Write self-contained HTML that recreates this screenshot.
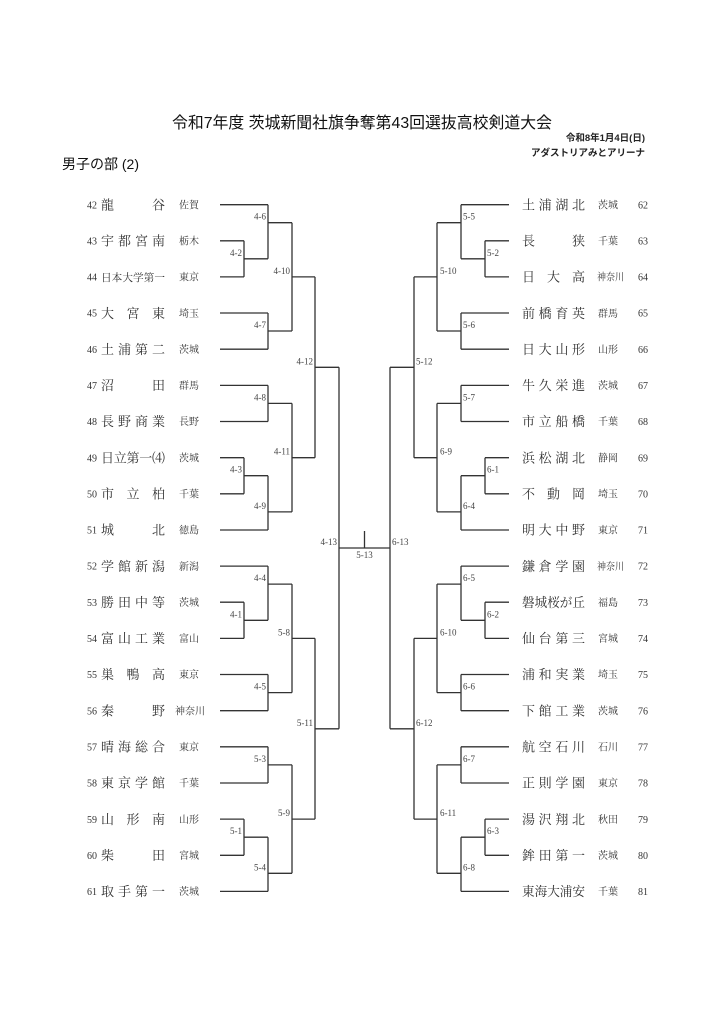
<!DOCTYPE html>
<html><head><meta charset="utf-8"><style>
html,body{margin:0;padding:0;background:#fff}
svg{display:block}
.g{font-family:"Liberation Sans","Noto Sans CJK JP",sans-serif}
.m{font-family:"Liberation Serif","Noto Serif CJK SC",serif;fill:#333}
.l{font-family:"Liberation Serif","Noto Serif CJK SC",serif;font-size:9px;fill:#444}
</style></head><body>
<svg width="724" height="1024" viewBox="0 0 724 1024" xmlns="http://www.w3.org/2000/svg">
<text class="g" x="362" y="128" font-size="16" text-anchor="middle" fill="#111" textLength="380" lengthAdjust="spacingAndGlyphs">令和7年度 茨城新聞社旗争奪第43回選抜高校剣道大会</text>
<text class="g" x="645" y="141" font-size="9.5" text-anchor="end" font-weight="bold" fill="#222">令和8年1月4日(日)</text>
<text class="g" x="645" y="156" font-size="9.5" text-anchor="end" font-weight="bold" fill="#222">アダストリアみとアリーナ</text>
<text class="g" x="62" y="169" font-size="14" fill="#111">男子の部 (2)</text>

<g id="br" fill="none" stroke="#333" stroke-width="1.3">
<path d="M220 204.7H268M220 240.8H244M220 276.9H244M220 313H268M220 349.2H268M220 385.4H268M220 421.5H268M220 457.7H244M220 493.8H244M220 530H268M220 566.1H268M220 602.2H244M220 638.4H244M220 674.5H268M220 710.7H268M220 746.8H268M220 783H268M220 819.1H244M220 855.3H244M220 891.4H268"/>
<path d="M244 240.8V276.9M244 258.8H268M268 204.7V258.8M268 222.7H292M268 313V349.2M268 331H292M292 222.7V331M292 276.9H315M268 385.4V421.5M268 403.4H292M244 457.7V493.8M244 475.7H268M268 475.7V530M268 511.9H292M292 403.4V511.9M292 457.7H315M315 276.9V457.7M315 367.3H339"/>
<path d="M244 602.2V638.4M244 620.3H268M268 566.1V620.3M268 584.1H292M268 674.5V710.7M268 692.6H292M292 584.1V692.6M292 638.4H315M268 746.8V783M268 764.9H292M244 819.1V855.3M244 837.2H268M268 837.2V891.4M268 873.3H292M292 764.9V873.3M292 819.1H315M315 638.4V819.1M315 728.8H339"/>
<path d="M339 367.3V728.8M339 548H364.5"/>
</g>
<use href="#br" transform="translate(729,0) scale(-1,1)"/>
<path d="M364.5 531V548" stroke="#333" stroke-width="1.3"/>

<g class="l" text-anchor="end">
<text x="266" y="219.7">4-6</text><text x="242" y="255.8">4-2</text><text x="290" y="273.9">4-10</text><text x="266" y="328">4-7</text><text x="313" y="364.3">4-12</text><text x="266" y="400.4">4-8</text><text x="290" y="454.7">4-11</text><text x="242" y="472.7">4-3</text><text x="266" y="508.9">4-9</text><text x="266" y="581.1">4-4</text><text x="242" y="617.3">4-1</text><text x="290" y="635.4">5-8</text><text x="266" y="689.6">4-5</text><text x="313" y="725.8">5-11</text><text x="266" y="761.9">5-3</text><text x="290" y="816.1">5-9</text><text x="242" y="834.2">5-1</text><text x="266" y="870.3">5-4</text>
<text x="337" y="545">4-13</text>
</g>
<g class="l" text-anchor="start">
<text x="463" y="219.7">5-5</text><text x="487" y="255.8">5-2</text><text x="440" y="273.9">5-10</text><text x="463" y="328">5-6</text><text x="416" y="364.3">5-12</text><text x="463" y="400.4">5-7</text><text x="440" y="454.7">6-9</text><text x="487" y="472.7">6-1</text><text x="463" y="508.9">6-4</text><text x="463" y="581.1">6-5</text><text x="487" y="617.3">6-2</text><text x="440" y="635.4">6-10</text><text x="463" y="689.6">6-6</text><text x="416" y="725.8">6-12</text><text x="463" y="761.9">6-7</text><text x="440" y="816.1">6-11</text><text x="487" y="834.2">6-3</text><text x="463" y="870.3">6-8</text>
<text x="392" y="545">6-13</text>
</g>
<text class="l" x="364.5" y="558" text-anchor="middle">5-13</text>

<g class="m">
<g font-size="10"><text x="87" y="208.5">42</text><text x="87" y="244.5">43</text><text x="87" y="280.5">44</text><text x="87" y="316.5">45</text><text x="87" y="353">46</text><text x="87" y="389">47</text><text x="87" y="425">48</text><text x="87" y="461.5">49</text><text x="87" y="497.5">50</text><text x="87" y="533.5">51</text><text x="87" y="569.5">52</text><text x="87" y="606">53</text><text x="87" y="642">54</text><text x="87" y="678">55</text><text x="87" y="714.5">56</text><text x="87" y="750.5">57</text><text x="87" y="786.5">58</text><text x="87" y="823">59</text><text x="87" y="859">60</text><text x="87" y="895">61</text></g>
<g font-size="13">
<text x="101" y="209.5" textLength="64" lengthAdjust="spacing">龍谷</text>
<text x="101" y="245.5" textLength="64" lengthAdjust="spacing">宇都宮南</text>
<text x="101" y="281" font-size="10.5" textLength="64" lengthAdjust="spacingAndGlyphs">日本大学第一</text>
<text x="101" y="318" textLength="64" lengthAdjust="spacing">大宮東</text>
<text x="101" y="354" textLength="64" lengthAdjust="spacing">土浦第二</text>
<text x="101" y="390" textLength="64" lengthAdjust="spacing">沼田</text>
<text x="101" y="426" textLength="64" lengthAdjust="spacing">長野商業</text>
<text x="101" y="462.5" textLength="64" lengthAdjust="spacing">日立第一⑷</text>
<text x="101" y="498.5" textLength="64" lengthAdjust="spacing">市立柏</text>
<text x="101" y="534.5" textLength="64" lengthAdjust="spacing">城北</text>
<text x="101" y="571" textLength="64" lengthAdjust="spacing">学館新潟</text>
<text x="101" y="607" textLength="64" lengthAdjust="spacing">勝田中等</text>
<text x="101" y="643" textLength="64" lengthAdjust="spacing">富山工業</text>
<text x="101" y="679" textLength="64" lengthAdjust="spacing">巣鴨高</text>
<text x="101" y="715.5" textLength="64" lengthAdjust="spacing">秦野</text>
<text x="101" y="751.5" textLength="64" lengthAdjust="spacing">晴海総合</text>
<text x="101" y="787.5" textLength="64" lengthAdjust="spacing">東京学館</text>
<text x="101" y="824" textLength="64" lengthAdjust="spacing">山形南</text>
<text x="101" y="860" textLength="64" lengthAdjust="spacing">柴田</text>
<text x="101" y="896" textLength="64" lengthAdjust="spacing">取手第一</text>
</g>
<g font-size="10">
<text x="179" y="208.5">佐賀</text><text x="179" y="244.5">栃木</text><text x="179" y="280.5">東京</text><text x="179" y="317">埼玉</text><text x="179" y="353">茨城</text><text x="179" y="389">群馬</text><text x="179" y="425">長野</text><text x="179" y="461.5">茨城</text><text x="179" y="497.5">千葉</text><text x="179" y="533.5">徳島</text><text x="179" y="570">新潟</text><text x="179" y="606">茨城</text><text x="179" y="642">富山</text><text x="179" y="678">東京</text><text x="175" y="714.5">神奈川</text><text x="179" y="750.5">東京</text><text x="179" y="786.5">千葉</text><text x="179" y="823">山形</text><text x="179" y="859">宮城</text><text x="179" y="895">茨城</text>
</g>
</g>

<g class="m">
<g font-size="13">
<text x="522" y="209.5" textLength="63" lengthAdjust="spacing">土浦湖北</text>
<text x="522" y="245.5" textLength="63" lengthAdjust="spacing">長狭</text>
<text x="522" y="281.5" textLength="63" lengthAdjust="spacing">日大高</text>
<text x="522" y="318" textLength="63" lengthAdjust="spacing">前橋育英</text>
<text x="522" y="354" textLength="63" lengthAdjust="spacing">日大山形</text>
<text x="522" y="390" textLength="63" lengthAdjust="spacing">牛久栄進</text>
<text x="522" y="426" textLength="63" lengthAdjust="spacing">市立船橋</text>
<text x="522" y="462.5" textLength="63" lengthAdjust="spacing">浜松湖北</text>
<text x="522" y="498.5" textLength="63" lengthAdjust="spacing">不動岡</text>
<text x="522" y="534.5" textLength="63" lengthAdjust="spacing">明大中野</text>
<text x="522" y="571" textLength="63" lengthAdjust="spacing">鎌倉学園</text>
<text x="522" y="607" textLength="63" lengthAdjust="spacingAndGlyphs">磐城桜が丘</text>
<text x="522" y="643" textLength="63" lengthAdjust="spacing">仙台第三</text>
<text x="522" y="679" textLength="63" lengthAdjust="spacing">浦和実業</text>
<text x="522" y="715.5" textLength="63" lengthAdjust="spacing">下館工業</text>
<text x="522" y="751.5" textLength="63" lengthAdjust="spacing">航空石川</text>
<text x="522" y="787.5" textLength="63" lengthAdjust="spacing">正則学園</text>
<text x="522" y="824" textLength="63" lengthAdjust="spacing">湯沢翔北</text>
<text x="522" y="860" textLength="63" lengthAdjust="spacing">鉾田第一</text>
<text x="522" y="896" textLength="63" lengthAdjust="spacingAndGlyphs">東海大浦安</text>
</g>
<g font-size="10">
<text x="598" y="208.5">茨城</text><text x="598" y="244.5">千葉</text><text x="597" y="280.5" textLength="27" lengthAdjust="spacingAndGlyphs">神奈川</text><text x="598" y="317">群馬</text><text x="598" y="353">山形</text><text x="598" y="389">茨城</text><text x="598" y="425">千葉</text><text x="598" y="461.5">静岡</text><text x="598" y="497.5">埼玉</text><text x="598" y="533.5">東京</text><text x="597" y="570" textLength="27" lengthAdjust="spacingAndGlyphs">神奈川</text><text x="598" y="606">福島</text><text x="598" y="642">宮城</text><text x="598" y="678">埼玉</text><text x="598" y="714.5">茨城</text><text x="598" y="750.5">石川</text><text x="598" y="786.5">東京</text><text x="598" y="823">秋田</text><text x="598" y="859">茨城</text><text x="598" y="895">千葉</text>
</g>
<g font-size="10"><text x="638" y="208.5">62</text><text x="638" y="244.5">63</text><text x="638" y="280.5">64</text><text x="638" y="316.5">65</text><text x="638" y="353">66</text><text x="638" y="389">67</text><text x="638" y="425">68</text><text x="638" y="461.5">69</text><text x="638" y="497.5">70</text><text x="638" y="533.5">71</text><text x="638" y="569.5">72</text><text x="638" y="606">73</text><text x="638" y="642">74</text><text x="638" y="678">75</text><text x="638" y="714.5">76</text><text x="638" y="750.5">77</text><text x="638" y="786.5">78</text><text x="638" y="823">79</text><text x="638" y="859">80</text><text x="638" y="895">81</text></g>
</g>
</svg>
</body></html>
